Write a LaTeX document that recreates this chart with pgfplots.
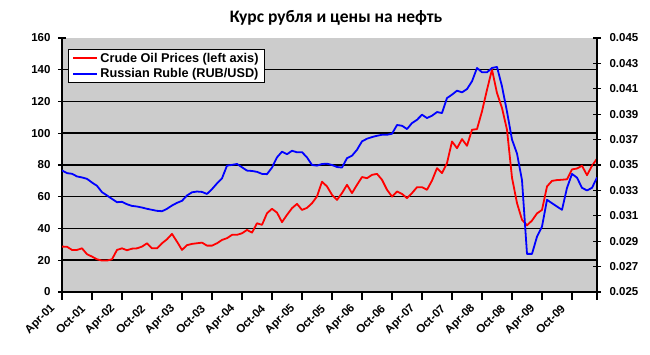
\documentclass[border=0pt]{standalone}
\usepackage{fontspec}
\setmainfont{Liberation Sans}
\newfontfamily\titlefont{Carlito}
\usepackage{pgfplots}
\pgfplotsset{compat=1.18}
\usepackage{pgfplotstable}
\definecolor{plotgray}{RGB}{204,204,204}

\pgfplotstableread{
m v
0 28.6
1 28.5
2 26.5
3 26.5
4 27.5
5 23.8
6 22.3
7 20.6
8 19.8
9 19.8
10 20.6
11 26.5
12 27.5
13 26.3
14 27.3
15 27.5
16 28.6
17 30.7
18 27.5
19 27.5
20 30.7
21 33.2
22 36.6
23 31.7
24 26.5
25 29.5
26 30.3
27 30.7
28 31.1
29 29.2
30 29.2
31 30.7
32 32.8
33 33.9
34 36.0
35 36.0
36 37.0
37 39.1
38 37.4
39 43.3
40 42.3
41 49.6
42 52.4
43 50.0
44 44.0
45 48.6
46 52.8
47 55.5
48 51.7
49 53.0
50 55.9
51 60.2
52 69.5
53 66.5
54 61.2
55 58.0
56 62.3
57 67.5
58 62.3
59 67.5
60 72.4
61 71.7
62 73.8
63 74.4
64 70.7
65 64.4
66 60.1
67 63.3
68 61.8
69 59.1
70 62.3
71 66.0
72 66.0
73 64.4
74 70.2
75 78.0
76 74.9
77 81.2
78 94.8
79 90.6
80 96.3
81 92.1
82 102.2
83 102.6
84 113.8
85 127.4
86 140.1
87 125.3
88 115.9
89 102.2
90 72.0
91 56.0
92 45.5
93 42.0
94 45.0
95 49.5
96 51.7
97 66.5
98 70.0
99 70.5
100 70.7
101 71.0
102 77.2
103 77.8
104 79.5
105 73.6
106 79.5
107 84.0
}\oiltable

\pgfplotstableread{
m r
0 0.03457
1 0.03436
2 0.03431
3 0.03410
4 0.03402
5 0.03391
6 0.03362
7 0.03336
8 0.03286
9 0.03260
10 0.03233
11 0.03207
12 0.03210
13 0.03191
14 0.03178
15 0.03173
16 0.03165
17 0.03155
18 0.03147
19 0.03139
20 0.03136
21 0.03155
22 0.03181
23 0.03202
24 0.03218
25 0.03260
26 0.03285
27 0.03291
28 0.03288
29 0.03272
30 0.03310
31 0.03355
32 0.03395
33 0.03495
34 0.03501
35 0.03508
36 0.03482
37 0.03456
38 0.03453
39 0.03446
40 0.03430
41 0.03428
42 0.03480
43 0.03560
44 0.03605
45 0.03585
46 0.03612
47 0.03600
48 0.03601
49 0.03560
50 0.03500
51 0.03495
52 0.03508
53 0.03510
54 0.03500
55 0.03484
56 0.03480
57 0.03554
58 0.03573
59 0.03620
60 0.03686
61 0.03707
62 0.03720
63 0.03730
64 0.03738
65 0.03738
66 0.03746
67 0.03815
68 0.03809
69 0.03783
70 0.03830
71 0.03856
72 0.03896
73 0.03870
74 0.03888
75 0.03917
76 0.03909
77 0.04027
78 0.04054
79 0.04085
80 0.04072
81 0.04098
82 0.04159
83 0.04264
84 0.04230
85 0.04230
86 0.04264
87 0.04272
88 0.04119
89 0.03920
90 0.03700
91 0.03590
92 0.03380
93 0.02800
94 0.02800
95 0.02936
96 0.03015
97 0.03226
98 0.03199
99 0.03173
100 0.03147
101 0.03320
102 0.03430
103 0.03400
104 0.03320
105 0.03300
106 0.03320
107 0.03402
}\rubtable

\begin{document}
\begin{tikzpicture}
\path[use as bounding box] (-62pt,-63pt) rectangle (588pt,292pt);
\node[anchor=base, font=\titlefont\bfseries\fontsize{17.5}{18}\selectfont] at (274pt,269pt) {Курс рубля и цены на нефть};
\begin{axis}[
  at={(0pt,0pt)}, anchor=south west,
  scale only axis, width=535pt, height=254pt,
  xmin=0, xmax=107, ymin=0, ymax=160,
  axis background/.style={fill=plotgray},
  axis x line*=bottom, axis y line*=left,
  axis line style={black, line width=1.6pt, -},
  xtick={0,6,...,102},
  xticklabels={Apr-01,Oct-01,Apr-02,Oct-02,Apr-03,Oct-03,Apr-04,Oct-04,Apr-05,Oct-05,Apr-06,Oct-06,Apr-07,Oct-07,Apr-08,Oct-08,Apr-09,Oct-09},
  extra x ticks={107}, extra x tick labels={},
  ytick={20,40,...,140},
  extra y ticks={0,160},
  extra y tick style={grid=none},
  ymajorgrids,
  grid style={black, line width=1.5pt},
  xtick align=outside, ytick align=center,
  major tick length=8pt,
  tick style={black, line width=1.2pt},
  /pgf/number format/assume math mode=true,
  tick label style={font=\bfseries\fontsize{11.5}{12}\selectfont},
  yticklabel style={xshift=-4pt},
  xticklabel style={xshift=-8pt, yshift=-6pt, rotate=45, anchor=east, inner sep=1pt},
  legend style={at={(0.0112,0.957)}, anchor=north west, draw=black, line width=0.8pt, fill=white,
    font=\bfseries\fontsize{12.7}{13}\selectfont, inner xsep=4pt, inner ysep=1.5pt, row sep=1pt,
    cells={anchor=west}},
  legend image code/.code={\draw[#1, line width=2pt] (0pt,0pt) -- (24pt,0pt);},
]
\addplot[red, line width=1.8pt, line join=round, no markers] table[x=m, y=v] {\oiltable};
\addlegendentry{Crude Oil Prices (left axis)}
\addlegendimage{blue, line width=2pt}
\addlegendentry{Russian Ruble (RUB/USD)}
\end{axis}
\begin{axis}[
  at={(0pt,0pt)}, anchor=south west,
  scale only axis, width=535pt, height=254pt,
  xmin=0, xmax=107, ymin=0.025, ymax=0.045,
  axis y line*=right, axis x line=none,
  axis line style={black, line width=1.6pt, -},
  ytick={0.025,0.027,0.029,0.031,0.033,0.035,0.037,0.039,0.041,0.043,0.045},
  scaled y ticks=false,
  yticklabel style={xshift=5pt, /pgf/number format/.cd, fixed, fixed zerofill, precision=3},
  ytick align=center,
  major tick length=8pt,
  tick style={black, line width=1.2pt},
  /pgf/number format/assume math mode=true,
  tick label style={font=\bfseries\fontsize{11.5}{12}\selectfont},
]
\addplot[blue, line width=1.8pt, line join=round, no markers] table[x=m, y=r] {\rubtable};
\end{axis}
\end{tikzpicture}
\end{document}
